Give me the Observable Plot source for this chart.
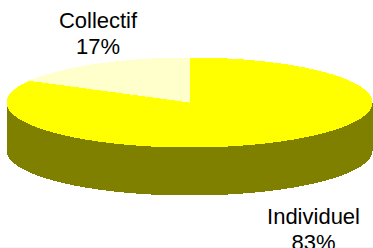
<!DOCTYPE html>
<html>
<head>
<meta charset="utf-8">
<script src="https://cdn.jsdelivr.net/npm/d3@7"></script>
<script src="https://cdn.jsdelivr.net/npm/@observablehq/plot@0.6"></script>
<style>
  html, body { margin: 0; padding: 0; background: #fff; }
  #chart svg { display: block; }
</style>
</head>
<body>
<div id="chart"></div>
<script>
// Data
const categories = ["Individuel", "Collectif"];
const values = [83, 17];
const topColors = ["#FFFF00", "#FFFFCC"];
const sideColors = ["#808000", "#808000"];

// Layout of the 3D pie (pixel space)
const W = 373, H = 248;
const cx = 189, cy = 102, rx = 183, ry = 45, depth = 48;
const labelPos = [
  {x: 313, y: 205.4},
  {x: 97.5, y: 9.4}
];

const total = d3.sum(values);
const pt = (deg, dz = 0) => {
  const t = deg * Math.PI / 180;
  return {x: cx + rx * Math.sin(t), y: cy - ry * Math.cos(t) + dz};
};

// Slices (angles clockwise from 12 o'clock)
let acc = 0;
const slices = categories.map((c, i) => {
  const a0 = acc / total * 360;
  acc += values[i];
  const a1 = acc / total * 360;
  return {category: c, value: values[i], a0, a1, i};
});

// Top-face polygons
const topPolys = slices.map(s => {
  const pts = [{x: cx, y: cy}];
  const n = Math.max(2, Math.ceil(s.a1 - s.a0));
  for (let k = 0; k <= n; k++) pts.push(pt(s.a0 + (s.a1 - s.a0) * k / n));
  return {s, pts};
});

// Side polygons (front-facing part: 90..270 degrees)
const sidePolys = slices.map(s => {
  const lo = Math.max(s.a0, 90), hi = Math.min(s.a1, 270);
  if (hi <= lo) return null;
  const pts = [];
  const n = Math.ceil(hi - lo);
  for (let k = 0; k <= n; k++) pts.push(pt(lo + (hi - lo) * k / n));
  for (let k = n; k >= 0; k--) pts.push(pt(lo + (hi - lo) * k / n, depth));
  return {s, pts};
}).filter(Boolean);

const labelData = slices.map((s, i) => ({
  text: `${s.category}\n${s.value}%`,
  x: labelPos[i].x, y: labelPos[i].y
}));

const marks = [];
for (const p of sidePolys) {
  marks.push(Plot.line(p.pts, {x: "x", y: "y", fill: sideColors[p.s.i], stroke: "none", curve: "linear-closed", shapeRendering: "crispEdges"}));
}
for (const p of topPolys) {
  marks.push(Plot.line(p.pts, {x: "x", y: "y", fill: topColors[p.s.i], stroke: "none", curve: "linear-closed", shapeRendering: "crispEdges"}));
}
marks.push(Plot.ruleY([247.5], {stroke: "#e6edf2"}));
marks.push(Plot.text(labelData, {
  x: "x", y: "y", text: "text",
  textAnchor: "middle", lineAnchor: "top", lineHeight: 1.18,
  fontSize: 22, fill: "#000",
  fontFamily: "'Liberation Sans', Arial, sans-serif"
}));

const chart = Plot.plot({
  width: W, height: H,
  margin: 0,
  x: {domain: [0, W], range: [0, W], axis: null},
  y: {domain: [0, H], range: [0, H], axis: null},
  style: {background: "#fff", overflow: "hidden"},
  marks
});
document.getElementById("chart").appendChild(chart);
</script>
</body>
</html>
